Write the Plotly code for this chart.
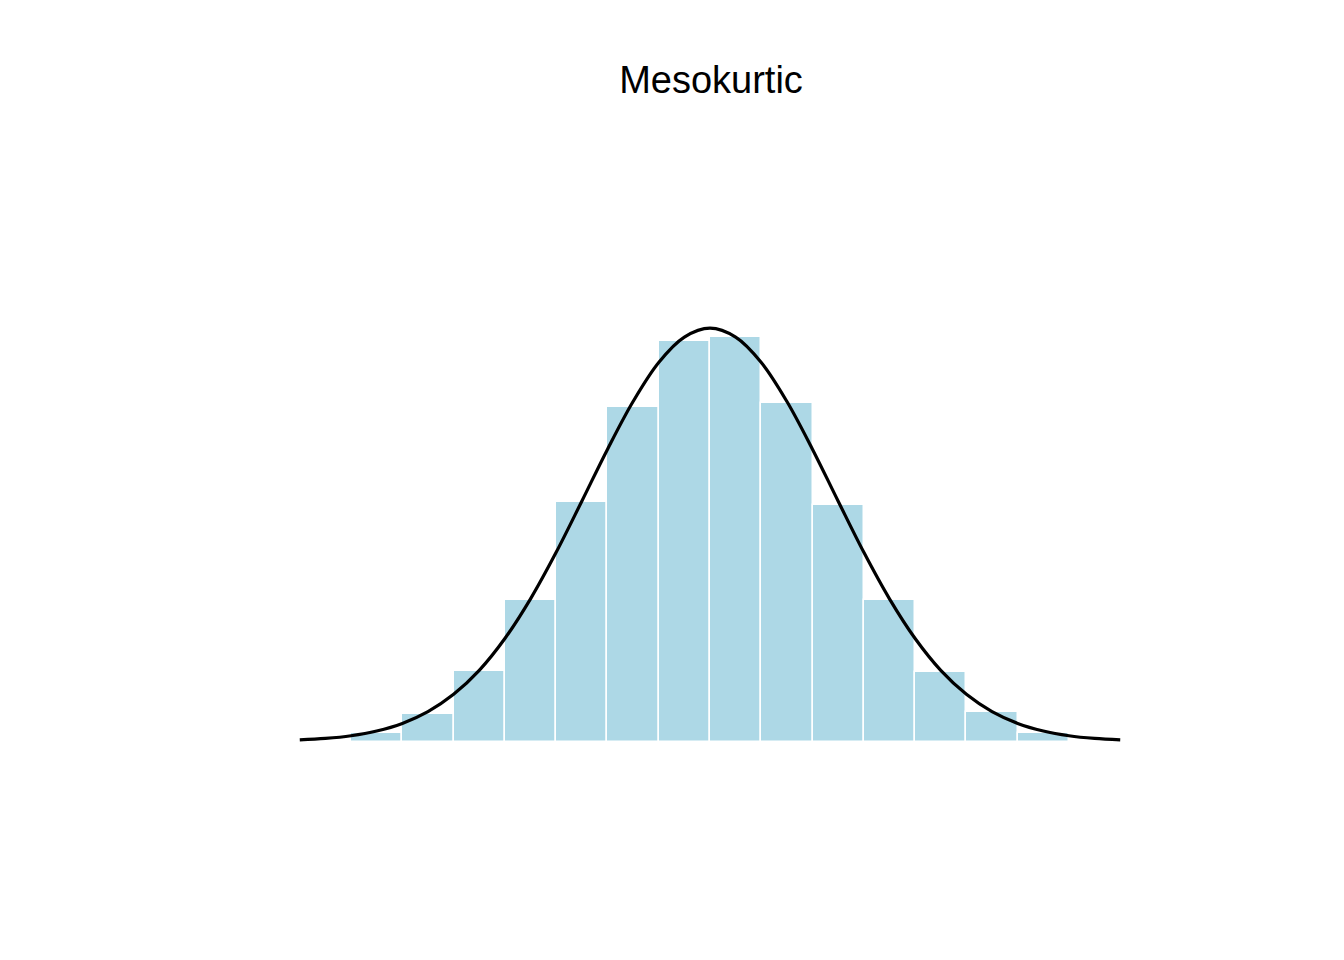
import plotly.graph_objects as go

# Histogram bins (centers, width 0.5) and bar heights (density)
bin_centers = [-3.25, -2.75, -2.25, -1.75, -1.25, -0.75, -0.25,
               0.25, 0.75, 1.25, 1.75, 2.25, 2.75, 3.25]
bar_heights = [0.0069, 0.0225, 0.0571, 0.1141, 0.1926, 0.2695, 0.3220,
               0.3258, 0.2727, 0.1905, 0.1138, 0.0557, 0.0236, 0.0069]

# Density curve
curve_x = [-4.0, -3.75, -3.5, -3.25, -3.0, -2.75, -2.5, -2.25, -2.0, -1.75,
           -1.5, -1.25, -1.0, -0.75, -0.5, -0.25, 0.0, 0.25, 0.5, 0.75,
           1.0, 1.25, 1.5, 1.75, 2.0, 2.25, 2.5, 2.75, 3.0, 3.25, 3.5,
           3.75, 4.0]
curve_y = [0.0013, 0.0025, 0.0047, 0.0085, 0.0146, 0.0241, 0.0380, 0.0573,
           0.0829, 0.1148, 0.1522, 0.1933, 0.2350, 0.2735, 0.3049, 0.3253,
           0.3325, 0.3253, 0.3049, 0.2735, 0.2350, 0.1933, 0.1522, 0.1148,
           0.0829, 0.0573, 0.0380, 0.0241, 0.0146, 0.0085, 0.0047, 0.0025,
           0.0013]

title_text = "Mesokurtic"

fig = go.Figure()
fig.add_trace(go.Bar(
    x=bin_centers, y=bar_heights, width=0.5,
    marker=dict(color="#ADD8E6", line=dict(color="white", width=1.5)),
    showlegend=False, hoverinfo="skip",
))
fig.add_trace(go.Scatter(
    x=curve_x, y=curve_y, mode="lines",
    line=dict(color="black", width=3.2, shape="spline"),
    showlegend=False, cliponaxis=False,
))

fig.update_layout(
    width=1344, height=960,
    margin=dict(l=261, r=201, t=286, b=214),
    plot_bgcolor="white", paper_bgcolor="white",
    bargap=0,
    xaxis=dict(range=[-4.3, 4.3], visible=False, showgrid=False, zeroline=False),
    yaxis=dict(range=[-0.01, 0.36], visible=False, showgrid=False, zeroline=False),
    title=dict(
        text=title_text,
        x=703 / 1344, xanchor="center", xref="container",
        y=1 - 72 / 960, yanchor="middle", yref="container",
        font=dict(family="Liberation Sans, Arial, sans-serif", size=38, color="black"),
    ),
)

fig.write_html("out.html")
